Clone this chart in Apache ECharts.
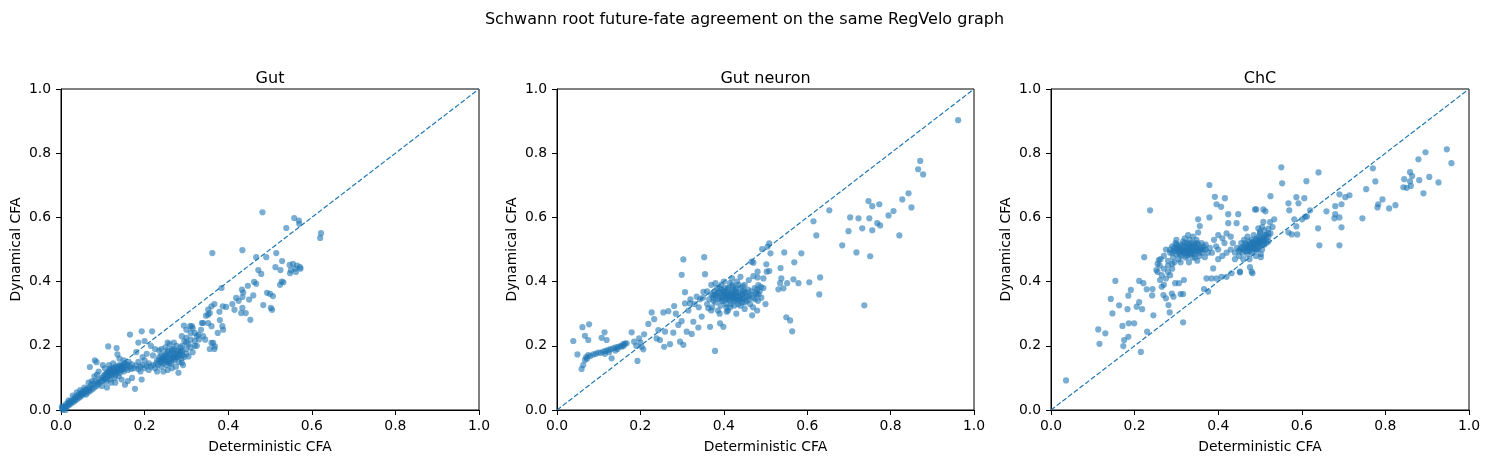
<!DOCTYPE html>
<html>
<head>
<meta charset="utf-8">
<script src="https://cdn.jsdelivr.net/npm/echarts@6/dist/echarts.min.js"></script>
<style>
html,body{margin:0;padding:0;background:#fff;}
#chart{width:1489px;height:463px;}
</style>
</head>
<body>
<div id="chart"></div>
<script>
const suptitle = "Schwann root future-fate agreement on the same RegVelo graph";
const panelTitles = ["Gut", "Gut neuron", "ChC"];
const xLabel = "Deterministic CFA";
const yLabel = "Dynamical CFA";
const tickValues = [0.0, 0.2, 0.4, 0.6, 0.8, 1.0];
const diagonal = [[0, 0], [1, 1]];

// Panel 1: Gut  [deterministic, dynamical]
const gutPoints = [
[0.003,0.005],[0.006,0.004],[0.008,0.012],[0.01,0.008],[0.012,0.018],[0.015,0.012],[0.017,0.022],[0.02,0.016],[0.022,0.028],[0.024,0.02],
[0.027,0.03],[0.03,0.025],[0.032,0.038],[0.035,0.03],[0.037,0.042],[0.04,0.035],[0.042,0.048],[0.045,0.04],[0.048,0.052],[0.05,0.045],
[0.052,0.058],[0.055,0.05],[0.058,0.062],[0.06,0.048],[0.062,0.066],[0.065,0.055],[0.068,0.07],[0.07,0.06],[0.072,0.078],[0.075,0.065],
[0.078,0.082],[0.08,0.07],[0.082,0.09],[0.085,0.075],[0.088,0.085],[0.09,0.08],[0.092,0.095],[0.095,0.088],[0.098,0.1],[0.1,0.092],
[0.004,0.0],[0.011,0.0],[0.002,0.01],[0.018,0.03],[0.028,0.045],[0.038,0.055],[0.046,0.062],[0.056,0.07],[0.066,0.085],[0.074,0.09],
[0.08,0.105],[0.086,0.11],[0.09,0.12],[0.1,0.14],[0.105,0.13],[0.081,0.155],[0.085,0.149],[0.069,0.134],
[0.005,0.008],[0.013,0.01],[0.02,0.022],[0.025,0.025],[0.033,0.033],[0.04,0.042],[0.047,0.047],[0.053,0.053],[0.06,0.058],[0.067,0.063],
[0.102,0.105],[0.105,0.098],[0.108,0.112],[0.11,0.1],[0.112,0.118],[0.115,0.105],[0.117,0.125],[0.12,0.11],[0.122,0.13],[0.125,0.115],
[0.127,0.122],[0.13,0.108],[0.132,0.135],[0.135,0.12],[0.137,0.128],[0.14,0.115],[0.142,0.14],[0.145,0.125],[0.147,0.132],[0.15,0.12],
[0.152,0.145],[0.155,0.13],[0.157,0.138],[0.16,0.125],[0.162,0.15],[0.165,0.135],[0.168,0.128],[0.17,0.142],[0.118,0.095],[0.128,0.1],
[0.138,0.105],[0.108,0.088],[0.115,0.14],[0.125,0.145],[0.14,0.16],[0.15,0.155],[0.133,0.193],[0.135,0.173],[0.113,0.198],[0.165,0.235],
[0.193,0.245],[0.218,0.245],[0.153,0.079],[0.177,0.066],[0.193,0.095],[0.16,0.09],[0.17,0.1],[0.145,0.095],[0.12,0.085],[0.098,0.075],
[0.11,0.07],[0.13,0.085],
[0.105,0.11],[0.11,0.115],[0.115,0.12],[0.12,0.12],[0.125,0.125],[0.13,0.12],[0.135,0.13],[0.14,0.13],[0.145,0.135],[0.15,0.14],
[0.113,0.108],[0.123,0.113],[0.133,0.118],[0.143,0.123],[0.118,0.128],[0.128,0.132],[0.138,0.138],[0.148,0.128],[0.158,0.142],[0.106,0.095],
[0.175,0.13],[0.18,0.138],[0.185,0.128],[0.19,0.135],[0.195,0.14],[0.2,0.13],[0.205,0.138],[0.21,0.145],[0.215,0.135],[0.22,0.14],
[0.185,0.15],[0.2,0.155],[0.19,0.12],[0.21,0.125],[0.195,0.165],[0.205,0.175],[0.18,0.18],[0.215,0.2],[0.2,0.215],[0.185,0.21],
[0.225,0.13],[0.228,0.145],[0.23,0.155],[0.232,0.14],[0.235,0.165],[0.238,0.15],[0.24,0.135],[0.242,0.16],[0.245,0.145],[0.247,0.17],
[0.25,0.155],[0.252,0.14],[0.254,0.165],[0.256,0.18],[0.258,0.15],[0.26,0.16],[0.262,0.175],[0.264,0.145],[0.266,0.185],[0.268,0.165],
[0.27,0.19],[0.272,0.155],[0.274,0.175],[0.276,0.2],[0.278,0.165],[0.28,0.185],[0.282,0.15],[0.284,0.17],[0.286,0.195],[0.288,0.16],
[0.29,0.18],[0.292,0.14],[0.295,0.165],[0.3,0.19],[0.245,0.12],[0.255,0.125],[0.265,0.13],[0.275,0.135],[0.235,0.185],[0.25,0.195],
[0.26,0.205],[0.27,0.21],[0.23,0.12],[0.24,0.19],[0.255,0.21],[0.281,0.116],[0.289,0.147],[0.305,0.167],[0.22,0.17],[0.225,0.19],
[0.235,0.155],[0.24,0.15],[0.245,0.16],[0.25,0.165],[0.255,0.15],[0.26,0.17],[0.265,0.16],[0.27,0.175],[0.275,0.165],[0.28,0.17],
[0.285,0.18],[0.26,0.145],[0.25,0.175],[0.24,0.17],[0.27,0.16],[0.278,0.18],[0.288,0.185],[0.265,0.19],[0.255,0.185],[0.245,0.155],
[0.29,0.2],[0.295,0.215],[0.3,0.225],[0.305,0.205],[0.31,0.24],[0.315,0.255],[0.32,0.215],[0.3,0.25],[0.325,0.23],[0.33,0.22],
[0.31,0.195],[0.3,0.175],[0.29,0.17],[0.32,0.2],
[0.289,0.23],[0.294,0.263],[0.309,0.261],[0.313,0.261],[0.337,0.271],[0.34,0.271],[0.352,0.271],[0.36,0.261],[0.352,0.297],[0.36,0.323],
[0.329,0.235],[0.345,0.219],[0.36,0.209],[0.368,0.198],[0.347,0.294],[0.356,0.302],[0.352,0.313],[0.367,0.33],[0.379,0.306],[0.387,0.323],
[0.395,0.321],[0.384,0.38],[0.386,0.261],[0.388,0.25],[0.364,0.209],[0.367,0.19],[0.356,0.19],[0.31,0.22],[0.32,0.24],[0.325,0.2],
[0.335,0.25],[0.3,0.21],[0.315,0.18],[0.34,0.23],[0.375,0.24],[0.38,0.28],[0.362,0.489],
[0.419,0.349],[0.415,0.312],[0.434,0.318],[0.431,0.302],[0.442,0.302],[0.453,0.281],[0.433,0.375],[0.436,0.366],[0.447,0.387],[0.434,0.352],
[0.45,0.344],[0.46,0.357],[0.462,0.399],[0.467,0.393],[0.493,0.365],[0.5,0.362],[0.507,0.355],[0.484,0.327],[0.502,0.318],[0.505,0.312],
[0.524,0.39],[0.528,0.4],[0.532,0.398],[0.472,0.436],[0.479,0.424],[0.513,0.445],[0.525,0.436],[0.434,0.498],[0.467,0.476],[0.491,0.476],
[0.515,0.489],[0.529,0.464],[0.482,0.616],[0.539,0.567],[0.558,0.598],[0.569,0.59],[0.57,0.58],[0.622,0.551],[0.62,0.536],[0.547,0.452],
[0.555,0.455],[0.565,0.45],[0.572,0.445],[0.55,0.435],[0.562,0.43],[0.573,0.44],[0.548,0.426],[0.56,0.44],[0.41,0.33],[0.425,0.34]
];

// Panel 2: Gut neuron
const gutNeuronPoints = [
[0.039,0.215],[0.049,0.173],[0.059,0.128],[0.063,0.14],[0.067,0.156],[0.075,0.171],[0.08,0.168],[0.087,0.173],[0.093,0.175],[0.099,0.179],
[0.105,0.178],[0.111,0.182],[0.117,0.184],[0.123,0.187],[0.129,0.19],[0.135,0.192],[0.141,0.195],[0.147,0.197],[0.153,0.2],[0.159,0.205],
[0.163,0.207],[0.167,0.208],[0.07,0.165],[0.072,0.16],[0.061,0.258],[0.077,0.267],[0.067,0.231],[0.075,0.218],[0.107,0.225],[0.114,0.242],
[0.119,0.218],[0.131,0.161],[0.14,0.185],[0.145,0.19],[0.155,0.197],[0.16,0.2],[0.115,0.175],[0.125,0.18],
[0.179,0.242],[0.185,0.213],[0.193,0.153],[0.197,0.223],[0.203,0.197],[0.209,0.236],[0.207,0.189],[0.19,0.2],[0.2,0.21],[0.219,0.268],
[0.227,0.304],[0.233,0.283],[0.239,0.223],[0.243,0.249],[0.247,0.218],[0.255,0.304],[0.259,0.244],[0.267,0.308],[0.257,0.197],[0.271,0.205],
[0.279,0.241],[0.281,0.324],[0.291,0.265],[0.295,0.213],[0.299,0.277],[0.303,0.203],[0.307,0.332],[0.311,0.244],[0.319,0.332],[0.323,0.237],
[0.327,0.275],[0.335,0.353],[0.339,0.257],[0.343,0.345],[0.347,0.291],[0.351,0.368],[0.363,0.317],[0.367,0.259],[0.375,0.358],[0.379,0.184],
[0.391,0.27],[0.399,0.259],[0.407,0.306],[0.303,0.469],[0.353,0.476],[0.299,0.421],[0.355,0.423],[0.307,0.367],[0.285,0.3],[0.315,0.31],
[0.33,0.33],[0.32,0.345],[0.34,0.32],
[0.36,0.33],[0.365,0.345],[0.37,0.36],[0.372,0.32],[0.375,0.35],[0.378,0.37],[0.38,0.335],[0.382,0.355],[0.384,0.38],[0.386,0.31],
[0.388,0.345],[0.39,0.365],[0.392,0.325],[0.394,0.39],[0.396,0.35],[0.398,0.37],[0.4,0.34],[0.402,0.36],[0.404,0.38],[0.406,0.32],
[0.408,0.355],[0.41,0.375],[0.412,0.345],[0.414,0.395],[0.416,0.365],[0.418,0.33],[0.42,0.35],[0.422,0.385],[0.424,0.36],[0.426,0.34],
[0.428,0.37],[0.43,0.355],[0.432,0.4],[0.434,0.33],[0.436,0.365],[0.438,0.345],[0.44,0.38],[0.442,0.36],[0.444,0.335],[0.446,0.37],
[0.448,0.35],[0.45,0.39],[0.452,0.365],[0.455,0.34],[0.458,0.375],[0.46,0.355],[0.463,0.33],[0.466,0.37],[0.47,0.35],[0.474,0.38],
[0.478,0.36],[0.482,0.34],[0.486,0.37],[0.49,0.35],[0.495,0.38],[0.39,0.3],[0.41,0.31],[0.43,0.3],[0.45,0.315],[0.47,0.32],
[0.4,0.4],[0.42,0.41],[0.44,0.415],[0.46,0.405],[0.38,0.395],[0.405,0.345],[0.415,0.355],[0.425,0.345],[0.435,0.355],[0.445,0.345],
[0.395,0.36],[0.41,0.36],[0.42,0.37],[0.43,0.38],[0.5,0.33],[0.48,0.31],[0.37,0.31],[0.36,0.37],[0.35,0.35],[0.37,0.39],
[0.39,0.35],[0.395,0.34],[0.4,0.355],[0.405,0.365],[0.41,0.35],[0.415,0.34],[0.42,0.36],[0.425,0.355],[0.43,0.365],[0.435,0.34],
[0.44,0.35],[0.445,0.36],[0.45,0.37],[0.455,0.355],[0.4,0.37],[0.41,0.38],[0.42,0.39],[0.43,0.345],[0.44,0.325],[0.45,0.335],
[0.46,0.345],[0.39,0.38],[0.385,0.365],[0.395,0.375],[0.425,0.375],[0.435,0.39],[0.445,0.385],[0.465,0.36],[0.475,0.345],[0.48,0.375],
[0.375,0.34],[0.38,0.36],[0.415,0.32],[0.425,0.325],[0.405,0.33],
[0.492,0.501],[0.505,0.509],[0.509,0.519],[0.512,0.488],[0.467,0.462],[0.471,0.459],[0.502,0.454],[0.481,0.431],[0.503,0.431],[0.509,0.433],
[0.495,0.41],[0.481,0.413],[0.471,0.417],[0.483,0.389],[0.489,0.384],[0.478,0.364],[0.483,0.36],[0.468,0.295],[0.586,0.488],[0.569,0.46],
[0.545,0.491],[0.631,0.413],[0.605,0.398],[0.629,0.36],[0.579,0.395],[0.567,0.407],[0.552,0.395],[0.543,0.379],[0.531,0.376],[0.538,0.41],
[0.536,0.442],[0.535,0.395],[0.55,0.289],[0.559,0.279],[0.564,0.245],[0.653,0.622],[0.615,0.588],[0.622,0.544],
[0.684,0.513],[0.718,0.491],[0.751,0.479],[0.737,0.326],[0.703,0.6],[0.723,0.597],[0.749,0.597],[0.768,0.582],[0.775,0.575],[0.732,0.566],
[0.756,0.56],[0.699,0.557],[0.747,0.651],[0.756,0.635],[0.773,0.641],[0.807,0.62],[0.795,0.606],[0.821,0.544],[0.843,0.675],[0.828,0.656],
[0.85,0.631],[0.871,0.776],[0.866,0.75],[0.878,0.734],[0.962,0.903]
];

// Panel 3: ChC
const chcPoints = [
[0.036,0.092],[0.116,0.206],[0.113,0.251],[0.13,0.239],[0.154,0.402],[0.143,0.346],[0.147,0.301],[0.163,0.326],[0.171,0.262],[0.175,0.218],
[0.173,0.199],[0.185,0.228],[0.186,0.27],[0.199,0.27],[0.215,0.181],[0.183,0.314],[0.185,0.356],[0.191,0.374],[0.205,0.322],[0.211,0.336],
[0.218,0.314],[0.211,0.402],[0.221,0.395],[0.223,0.476],[0.23,0.244],[0.245,0.295],[0.237,0.622],
[0.229,0.376],[0.243,0.377],[0.242,0.357],[0.252,0.436],[0.258,0.467],[0.255,0.455],[0.261,0.405],[0.265,0.384],[0.269,0.358],[0.275,0.348],
[0.281,0.327],[0.284,0.304],[0.289,0.363],[0.293,0.353],[0.297,0.395],[0.306,0.395],[0.31,0.361],[0.316,0.361],[0.316,0.273],[0.318,0.405],
[0.26,0.45],[0.265,0.42],[0.27,0.44],[0.275,0.41],[0.28,0.43],[0.285,0.42],[0.27,0.39],[0.29,0.44],[0.255,0.43],[0.262,0.47],
[0.27,0.48],[0.275,0.5],[0.28,0.465],[0.285,0.49],[0.29,0.51],[0.292,0.475],[0.295,0.495],[0.298,0.52],[0.3,0.485],[0.302,0.505],
[0.305,0.47],[0.307,0.495],[0.31,0.515],[0.312,0.48],[0.314,0.5],[0.316,0.525],[0.318,0.49],[0.32,0.51],[0.322,0.475],[0.324,0.5],
[0.326,0.52],[0.328,0.485],[0.33,0.505],[0.332,0.53],[0.334,0.49],[0.336,0.51],[0.338,0.475],[0.34,0.5],[0.342,0.52],[0.344,0.485],
[0.346,0.505],[0.348,0.53],[0.35,0.495],[0.352,0.515],[0.355,0.48],[0.358,0.5],[0.36,0.52],[0.362,0.49],[0.365,0.51],[0.31,0.46],
[0.33,0.46],[0.35,0.465],[0.32,0.535],[0.34,0.54],[0.3,0.53],[0.315,0.495],[0.325,0.505],[0.335,0.5],[0.345,0.495],[0.305,0.51],
[0.295,0.46],[0.28,0.45],[0.29,0.455],[0.37,0.5],[0.375,0.49],[0.38,0.505],
[0.3,0.5],[0.305,0.49],[0.31,0.5],[0.315,0.51],[0.32,0.495],[0.325,0.49],[0.33,0.515],[0.335,0.52],[0.34,0.51],[0.345,0.515],
[0.35,0.505],[0.355,0.5],[0.36,0.505],[0.32,0.52],[0.33,0.495],[0.34,0.49],[0.35,0.52],[0.31,0.485],[0.325,0.48],[0.335,0.485],
[0.345,0.475],[0.355,0.49],[0.365,0.5],[0.37,0.515],[0.3,0.515],[0.29,0.49],[0.285,0.5],[0.295,0.505],
[0.328,0.545],[0.352,0.553],[0.352,0.594],[0.356,0.573],[0.379,0.701],[0.392,0.664],[0.396,0.641],[0.407,0.633],[0.416,0.66],[0.379,0.6],
[0.424,0.61],[0.424,0.582],[0.448,0.61],[0.444,0.582],[0.466,0.566],[0.488,0.625],[0.496,0.566],[0.39,0.53],[0.4,0.545],[0.41,0.535],
[0.42,0.55],[0.43,0.54],[0.395,0.51],[0.415,0.52],[0.368,0.476],[0.372,0.41],[0.384,0.41],[0.396,0.41],[0.388,0.441],[0.408,0.415],
[0.42,0.415],[0.432,0.426],[0.452,0.431],[0.48,0.431],[0.476,0.445],[0.366,0.377],[0.376,0.369],[0.4,0.47],[0.41,0.48],[0.42,0.49],
[0.43,0.5],[0.44,0.47],[0.385,0.49],[0.4,0.5],
[0.44,0.49],[0.445,0.505],[0.45,0.48],[0.452,0.5],[0.455,0.52],[0.458,0.49],[0.46,0.51],[0.462,0.53],[0.465,0.495],[0.468,0.515],
[0.47,0.485],[0.472,0.505],[0.474,0.525],[0.476,0.495],[0.478,0.51],[0.48,0.53],[0.482,0.49],[0.484,0.505],[0.486,0.52],[0.488,0.5],
[0.49,0.515],[0.492,0.535],[0.494,0.5],[0.496,0.52],[0.498,0.54],[0.5,0.51],[0.502,0.525],[0.505,0.5],[0.508,0.53],[0.51,0.515],
[0.512,0.545],[0.515,0.52],[0.46,0.47],[0.475,0.47],[0.49,0.48],[0.47,0.54],[0.485,0.545],[0.5,0.555],[0.482,0.426],[0.452,0.429],
[0.502,0.476],[0.502,0.486],[0.435,0.52],[0.5,0.55],[0.51,0.56],[0.52,0.54],[0.525,0.55],[0.52,0.565],[0.53,0.57],[0.505,0.57],
[0.46,0.5],[0.465,0.505],[0.47,0.51],[0.475,0.5],[0.48,0.505],[0.485,0.51],[0.49,0.5],[0.495,0.51],[0.5,0.52],[0.505,0.515],
[0.51,0.525],[0.515,0.53],[0.52,0.525],[0.475,0.515],[0.48,0.52],[0.485,0.525],[0.49,0.53],[0.495,0.525],[0.5,0.53],[0.465,0.52],
[0.455,0.505],[0.45,0.495],[0.47,0.495],[0.505,0.535],[0.51,0.54],[0.515,0.545],[0.52,0.55],
[0.491,0.625],[0.508,0.625],[0.513,0.619],[0.534,0.594],[0.524,0.585],[0.508,0.586],[0.551,0.756],[0.64,0.74],[0.553,0.706],[0.611,0.713],
[0.525,0.666],[0.568,0.644],[0.592,0.644],[0.587,0.663],[0.606,0.66],[0.57,0.622],[0.62,0.622],[0.612,0.603],[0.608,0.602],[0.601,0.594],
[0.582,0.594],[0.587,0.572],[0.568,0.553],[0.576,0.547],[0.589,0.547],
[0.69,0.672],[0.704,0.663],[0.714,0.669],[0.695,0.641],[0.68,0.635],[0.659,0.619],[0.68,0.61],[0.678,0.597],[0.69,0.6],[0.695,0.569],
[0.639,0.566],[0.642,0.513],[0.69,0.513],
[0.77,0.753],[0.776,0.712],[0.754,0.688],[0.793,0.656],[0.783,0.641],[0.781,0.631],[0.809,0.628],[0.824,0.638],[0.745,0.597],
[0.947,0.812],[0.958,0.769],[0.896,0.803],[0.879,0.781],[0.859,0.741],[0.864,0.729],[0.845,0.719],[0.859,0.712],[0.861,0.698],[0.851,0.692],
[0.843,0.694],[0.881,0.716],[0.905,0.726],[0.927,0.709],[0.891,0.675]
];

const panelData = [gutPoints, gutNeuronPoints, chcPoints];
const gridLefts = [61, 557, 1051];
const gridWidths = [418, 417, 418];

const FONT = "DejaVu Sans";
const BLUE = "#1f77b4";

const grids = [], xAxes = [], yAxes = [], series = [];
const titles = [{
  text: suptitle, left: 744.5, top: 12, textAlign: "center", padding: 0,
  textStyle: {fontFamily: FONT, fontSize: 16, fontWeight: "normal", color: "#000"}
}];

const fmt = v => v.toFixed(1);

for (let i = 0; i < 3; i++) {
  grids.push({left: gridLefts[i], top: 89, width: gridWidths[i], height: 321,
    show: true, borderColor: "#000", borderWidth: 1, backgroundColor: "transparent", containLabel: false});
  titles.push({text: panelTitles[i], left: gridLefts[i] + gridWidths[i] / 2, top: 71, textAlign: "center", padding: 0,
    textStyle: {fontFamily: FONT, fontSize: 16, fontWeight: "normal", color: "#000"}});
  const axisCommon = {
    type: "value", min: 0, max: 1, interval: 0.2, gridIndex: i,
    axisLine: {show: true, onZero: false, lineStyle: {color: "#000", width: 1}},
    axisTick: {show: true, inside: false, length: 5, lineStyle: {color: "#000", width: 1}},
    splitLine: {show: false},
    axisLabel: {show: true, formatter: fmt, fontFamily: FONT, fontSize: 13.9, color: "#000", margin: 9},
    nameLocation: "middle",
    nameTextStyle: {fontFamily: FONT, fontSize: 13.9, color: "#000"}
  };
  xAxes.push(Object.assign({}, axisCommon, {position: "bottom", name: xLabel, nameGap: 30}));
  yAxes.push(Object.assign({}, axisCommon, {position: "left", name: yLabel, nameGap: 38,
    axisLabel: Object.assign({}, axisCommon.axisLabel, {margin: 10})}));
  series.push({
    type: "scatter", xAxisIndex: i, yAxisIndex: i, data: panelData[i],
    symbol: "circle", symbolSize: 6.2,
    itemStyle: {color: BLUE, opacity: 0.6},
    z: 2, silent: true
  });
  series.push({
    type: "line", xAxisIndex: i, yAxisIndex: i, data: diagonal,
    symbol: "none", lineStyle: {color: BLUE, width: 1.2, type: [5, 2.2]},
    z: 3, silent: true
  });
}

const chart = echarts.init(document.getElementById("chart"), null, {renderer: "canvas"});
chart.setOption({
  animation: false,
  backgroundColor: "#fff",
  title: titles,
  grid: grids,
  xAxis: xAxes,
  yAxis: yAxes,
  series: series
});
</script>
</body>
</html>
